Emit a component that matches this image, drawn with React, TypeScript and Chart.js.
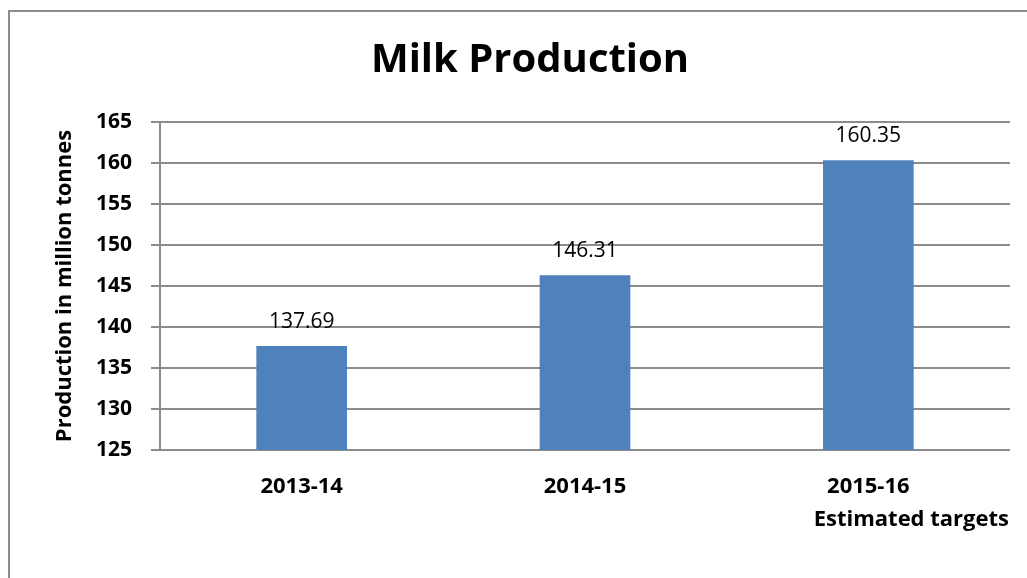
import React, { useEffect, useRef } from "react";
import { Chart, registerables } from "chart.js";

Chart.register(...registerables);

const categories = ["2013-14", "2014-15", "2015-16"];
const production = [137.69, 146.31, 160.35];
const dataLabels = ["137.69", "146.31", "160.35"];
const noteText = "Estimated targets";
const chartTitle = "Milk Production";
const yTitle = "Production in million tonnes";
const yMin = 125;
const yMax = 165;
const yStep = 5;

const FONT = "'Open Sans', 'Noto Sans', sans-serif";

export default function App() {
  const ref = useRef<HTMLCanvasElement | null>(null);

  useEffect(() => {
    if (!ref.current) return;
    const labelPlugin = {
      id: "barLabels",
      afterDatasetsDraw(chart: any) {
        const ctx = chart.ctx;
        const meta = chart.getDatasetMeta(0);
        ctx.save();
        ctx.fillStyle = "#000";
        ctx.font = `21px ${FONT}`;
        ctx.textAlign = "center";
        ctx.textBaseline = "alphabetic";
        meta.data.forEach((bar: any, i: number) => {
          ctx.fillText(dataLabels[i], bar.x, bar.y - 18);
        });
        const xs = chart.scales.x;
        ctx.font = `bold 22px ${FONT}`;
        ctx.textBaseline = "middle";
        ctx.fillText(noteText, xs.getPixelForValue(2) + 43, chart.chartArea.bottom + 70);
        ctx.restore();
      },
    };
    const chart = new Chart(ref.current, {
      type: "bar",
      data: {
        labels: categories,
        datasets: [
          {
            data: production,
            backgroundColor: "#4F81BD",
            borderWidth: 0,
            categoryPercentage: 1,
            barPercentage: 0.32,
          },
        ],
      },
      options: {
        responsive: false,
        animation: false,
        layout: { padding: { left: 40, right: 17, top: 0, bottom: 0 } },
        plugins: {
          legend: { display: false },
          tooltip: { enabled: false },
          title: {
            display: true,
            text: chartTitle,
            color: "#000",
            font: { family: FONT, size: 40, weight: "bold" },
            padding: { top: 25, bottom: 37 },
          },
        },
        scales: {
          x: {
            grid: { display: false, drawTicks: false },
            border: { display: false },
            ticks: {
              color: "#000",
              font: { family: FONT, size: 22, weight: "bold" },
              padding: 24,
            },
            afterFit: (s: any) => {
              s.height = 128;
            },
          },
          y: {
            min: yMin,
            max: yMax,
            grid: {
              color: "#8c8c8c",
              lineWidth: 2,
              tickLength: 9,
              drawTicks: true,
            },
            border: { display: true, color: "#8c8c8c", width: 2 },
            ticks: {
              stepSize: yStep,
              color: "#000",
              font: { family: FONT, size: 21, weight: "bold" },
              padding: 19,
            },
            title: {
              display: true,
              text: yTitle,
              color: "#000",
              font: { family: FONT, size: 22, weight: "bold" },
              padding: { top: 2, bottom: 0 },
            },
            afterFit: (s: any) => {
              s.width = 110;
            },
          },
        },
      },
      plugins: [labelPlugin],
    });
    return () => chart.destroy();
  }, []);

  return (
    <div
      style={{
        position: "absolute",
        left: 8,
        top: 10,
        width: 1019,
        height: 568,
        borderLeft: "2px solid #8c8c8c",
        borderTop: "2px solid #8c8c8c",
        boxSizing: "border-box",
        overflow: "hidden",
        background: "#fff",
      }}
    >
      <canvas ref={ref} width={1017} height={566} style={{ display: "block" }} />
    </div>
  );
}
